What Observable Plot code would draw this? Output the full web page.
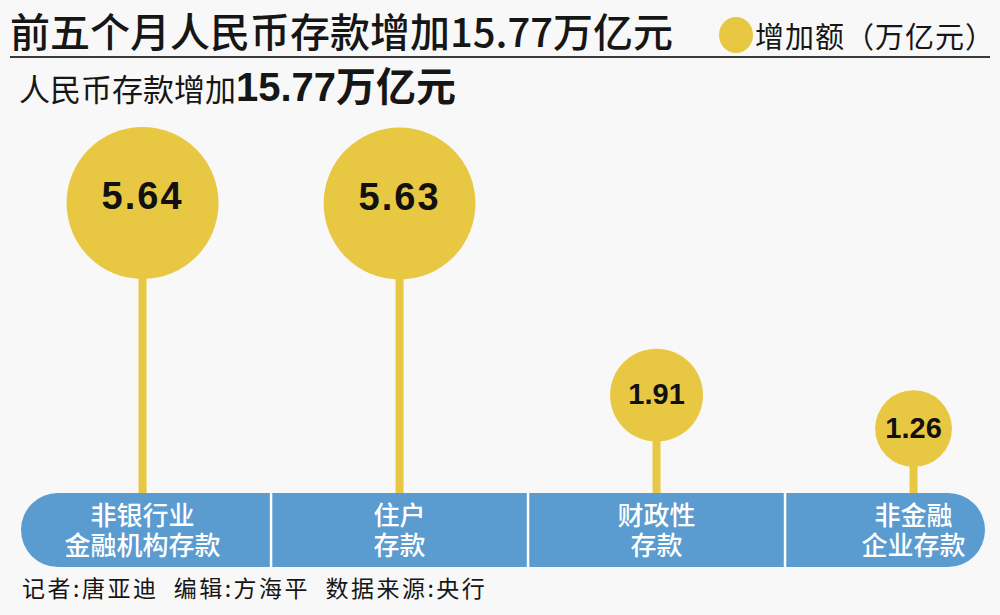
<!DOCTYPE html>
<html>
<head>
<meta charset="utf-8">
<script src="https://cdn.jsdelivr.net/npm/d3@7"></script>
<script src="https://cdn.jsdelivr.net/npm/@observablehq/plot@0.6"></script>
<style>
  html, body { margin: 0; padding: 0; }
  body { width: 1000px; height: 615px; overflow: hidden; position: relative; background: #f8f8f8;
         font-family: "Noto Sans CJK SC", "Noto Sans", sans-serif; color: #161616; }
  .abs { position: absolute; white-space: pre; }
  #title { left: 10px; top: 10px; font-size: 40px; line-height: 40px; font-weight: 500; }
  #rule { left: 10px; top: 56px; width: 980px; height: 2px; background: #3a3a3a; }
  #legdot { left: 719px; top: 17px; width: 34px; height: 36px; border-radius: 50%; background: #e8c843; }
  #legtxt { left: 755px; top: 19px; font-size: 29px; line-height: 32px; letter-spacing: 1px; }
  #sub { left: 19px; top: 65px; line-height: 44px; }
  #sub .a { font-size: 31px; font-weight: 400; }
  #sub .b { font-size: 40px; font-weight: 700; font-family: "Liberation Sans", "Noto Sans CJK SC", sans-serif; }
  #foot { left: 22px; top: 572px; font-size: 23px; line-height: 30px; letter-spacing: 2.5px; }
  #chart { left: 0; top: 110px; }
</style>
</head>
<body>
<div id="title" class="abs">前五个月人民币存款增加15.77万亿元</div>
<div id="rule" class="abs"></div>
<div id="legdot" class="abs"></div>
<div id="legtxt" class="abs">增加额（万亿元）</div>
<div id="sub" class="abs"><span class="a">人民币存款增加</span><span class="b">15.77万亿元</span></div>
<div id="chart" class="abs"></div>
<div id="foot" class="abs">记者:唐亚迪  编辑:方海平  数据来源:央行</div>
<script>
// Data
const categories = ["非银行业\n金融机构存款", "住户\n存款", "财政性\n存款", "非金融\n企业存款"];
const values = [5.64, 5.63, 1.91, 1.26];

const data = categories.map((c, i) => ({cat: c, i, value: values[i]}));

const yellow = "#e8c843";
const blue = "#5a9bd0";
const xDomain = [-0.471, 3.28];
const yDomain = [-1.437, 7.437];

const chart = Plot.plot({
  width: 1000,
  height: 460,
  marginLeft: 21,
  marginRight: 15,
  marginTop: 0,
  marginBottom: 3,
  x: {type: "linear", domain: xDomain, axis: null},
  y: {domain: yDomain, axis: null},
  r: {type: "pow", exponent: 0.455, domain: [0, d3.max(values)], range: [0, 76]},
  style: {background: "transparent", overflow: "visible"},
  marks: [
    Plot.rect([0], {x1: xDomain[0], x2: xDomain[1], y1: yDomain[0], y2: 0, fill: blue, rx: 37}),
    Plot.ruleX(data.slice(0, -1), {x: d => d.i + 0.5, y1: yDomain[0], y2: 0, stroke: "white", strokeWidth: 2.5}),
    Plot.text(data, {x: "i", y: yDomain[0] / 2, text: "cat", fill: "white", fontSize: 26, lineHeight: 1.17,
      fontFamily: "Noto Sans CJK SC", fontWeight: 500}),
    Plot.ruleX(data, {x: "i", y1: 0, y2: "value", stroke: yellow, strokeWidth: 8}),
    Plot.dot(data, {x: "i", y: "value", r: "value", fill: yellow}),
    Plot.text(data, {filter: d => d.value > 3, x: "i", y: "value", text: d => d.value.toFixed(2), dy: -6,
      fontSize: 38, fontWeight: "bold", fontFamily: "Liberation Sans", fill: "#111"}),
    Plot.text(data, {filter: d => d.value <= 3, x: "i", y: "value", text: d => d.value.toFixed(2),
      fontSize: 29, fontWeight: "bold", fontFamily: "Liberation Sans", fill: "#111"})
  ]
});
chart.querySelectorAll("text").forEach(t => {
  const v = parseFloat(t.textContent);
  if (/^\d\.\d\d$/.test(t.textContent) && v > 3) t.style.letterSpacing = "2px";
});
document.getElementById("chart").appendChild(chart);
</script>
</body>
</html>
